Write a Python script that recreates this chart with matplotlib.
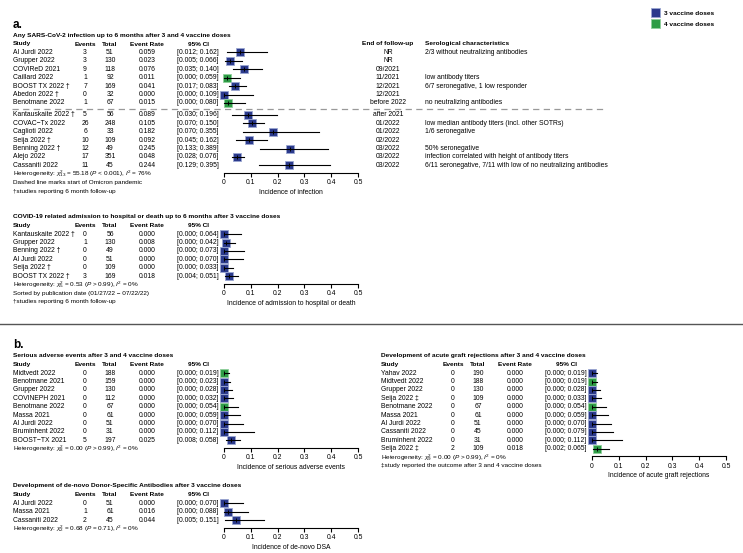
import matplotlib
matplotlib.use('Agg')
import matplotlib.pyplot as plt
from matplotlib.patches import Patch

plt.rcParams['font.family'] = ['Liberation Sans', 'DejaVu Sans']
plt.rcParams['mathtext.fontset'] = 'custom'
plt.rcParams['mathtext.rm'] = 'Liberation Sans'
plt.rcParams['mathtext.it'] = 'Liberation Sans:italic'
plt.rcParams['mathtext.bf'] = 'Liberation Sans:bold'

BLUE = '#2b3a8c'
GREEN = '#2e9c46'

# --- a. infection
inf_names = ['Al Jurdi 2022', 'Grupper 2022', 'COVIReD 2021', 'Caillard 2022', 'BOOST TX 2022 \u2020',
             'Abedon 2022 \u2020', 'Benotmane 2022', 'Kantauskaite 2022 \u2020', 'COVAC\u2212Tx 2022',
             'Caglioti 2022', 'Seija 2022 \u2020', 'Benning 2022 \u2020', 'Alejo 2022', 'Cassaniti 2022']
inf_events = [3, 3, 9, 1, 7, 0, 1, 5, 26, 6, 10, 12, 17, 11]
inf_totals = [51, 130, 118, 92, 169, 32, 67, 56, 248, 33, 109, 49, 351, 45]
inf_rates = [0.059, 0.023, 0.076, 0.011, 0.041, 0.000, 0.015, 0.089, 0.105, 0.182, 0.092, 0.245, 0.048, 0.244]
inf_lo = [0.012, 0.005, 0.035, 0.000, 0.017, 0.000, 0.000, 0.030, 0.070, 0.070, 0.045, 0.133, 0.028, 0.129]
inf_hi = [0.162, 0.066, 0.140, 0.059, 0.083, 0.109, 0.080, 0.196, 0.150, 0.355, 0.162, 0.389, 0.076, 0.395]
inf_doses = [3, 3, 3, 4, 3, 3, 4, 3, 3, 3, 3, 3, 3, 3]
inf_followup = ['NR', 'NR', '09/2021', '11/2021', '12/2021', '12/2021', 'before 2022', 'after 2021',
                '01/2022', '01/2022', '02/2022', '03/2022', '03/2022', '03/2022']
inf_sero = ['2/3 without neutralizing antibodies', '', '', 'low antibody titers',
            '6/7 seronegative, 1 low responder', '', 'no neutralizing antibodies', '',
            'low median antibody titers (incl. other SOTRs)', '1/6 seronegative', '', '50% seronegative',
            'infection correlated with height of antibody titers',
            '6/11 seronegative, 7/11 with low of no neutralizing antibodies']

# --- a. hospital / death
hosp_names = ['Kantauskaite 2022 \u2020', 'Grupper 2022', 'Benning 2022 \u2020', 'Al Jurdi 2022',
              'Seija 2022 \u2020', 'BOOST TX 2022 \u2020']
hosp_events = [0, 1, 0, 0, 0, 3]
hosp_totals = [56, 130, 49, 51, 109, 169]
hosp_rates = [0.000, 0.008, 0.000, 0.000, 0.000, 0.018]
hosp_lo = [0.000, 0.000, 0.000, 0.000, 0.000, 0.004]
hosp_hi = [0.064, 0.042, 0.073, 0.070, 0.033, 0.051]
hosp_doses = [3, 3, 3, 3, 3, 3]

# --- b. serious adverse events
sae_names = ['Midtvedt 2022', 'Benotmane 2021', 'Grupper 2022', 'COVINEPH 2021', 'Benotmane 2022',
             'Massa 2021', 'Al Jurdi 2022', 'Bruminhent 2022', 'BOOST\u2212TX 2021']
sae_events = [0, 0, 0, 0, 0, 0, 0, 0, 5]
sae_totals = [188, 159, 130, 112, 67, 61, 51, 31, 197]
sae_rates = [0.000, 0.000, 0.000, 0.000, 0.000, 0.000, 0.000, 0.000, 0.025]
sae_lo = [0.000, 0.000, 0.000, 0.000, 0.000, 0.000, 0.000, 0.000, 0.008]
sae_hi = [0.019, 0.023, 0.028, 0.032, 0.054, 0.059, 0.070, 0.112, 0.058]
sae_doses = [4, 3, 3, 3, 4, 3, 3, 3, 3]

# --- b. de-novo DSA
dsa_names = ['Al Jurdi 2022', 'Massa 2021', 'Cassaniti 2022']
dsa_events = [0, 1, 2]
dsa_totals = [51, 61, 45]
dsa_rates = [0.000, 0.016, 0.044]
dsa_lo = [0.000, 0.000, 0.005]
dsa_hi = [0.070, 0.088, 0.151]
dsa_doses = [3, 3, 3]

# --- b. acute graft rejection
agr_names = ['Yahav 2022', 'Midtvedt 2022', 'Grupper 2022', 'Seija 2022 \u2021', 'Benotmane 2022',
             'Massa 2021', 'Al Jurdi 2022', 'Cassaniti 2022', 'Bruminhent 2022', 'Seija 2022 \u2021']
agr_events = [0, 0, 0, 0, 0, 0, 0, 0, 0, 2]
agr_totals = [190, 188, 130, 109, 67, 61, 51, 45, 31, 109]
agr_rates = [0.000, 0.000, 0.000, 0.000, 0.000, 0.000, 0.000, 0.000, 0.000, 0.018]
agr_lo = [0.000, 0.000, 0.000, 0.000, 0.000, 0.000, 0.000, 0.000, 0.000, 0.002]
agr_hi = [0.019, 0.019, 0.028, 0.033, 0.054, 0.059, 0.070, 0.079, 0.112, 0.065]
agr_doses = [3, 4, 3, 3, 4, 3, 3, 3, 3, 4]

ticks = [0, 0.1, 0.2, 0.3, 0.4, 0.5]
tick_labels = ['0', '0.1', '0.2', '0.3', '0.4', '0.5']

W, H = 743, 553
FS = 4.9
FSB = 4.65
fig = plt.figure(figsize=(W / 100, H / 100), dpi=100)
bg = fig.add_axes([0, 0, 1, 1])
bg.set_xlim(0, W)
bg.set_ylim(H, 0)
bg.axis('off')


def txt(x, y, s, **kw):
    if kw.get('fontweight') == 'bold':
        kw.setdefault('fontsize', FSB)
    kw.setdefault('fontsize', FS)
    kw.setdefault('va', 'center')
    bg.text(x, y, s, **kw)


def forest(x0, ytitle, title, names, events, totals, rates, lo, hi, doses, xlabel, notes,
           gap_after=None, msize=5.0):
    # column layout relative to the study column
    c_ev, c_tot, c_rate, c_ci = x0 + 72, x0 + 97, x0 + 134, x0 + 185
    a0, a1 = x0 + 211, x0 + 345
    txt(x0, ytitle, title, fontweight='bold')
    yh = ytitle + 9
    txt(x0, yh, 'Study', fontweight='bold')
    txt(c_ev, yh, 'Events', fontweight='bold', ha='center')
    txt(c_tot, yh, 'Total', fontweight='bold', ha='center')
    txt(c_rate, yh, 'Event Rate', fontweight='bold', ha='center')
    txt(c_ci, yh, '95% CI', fontweight='bold', ha='center')
    rows = []
    y = yh + 8.5
    for i in range(len(names)):
        rows.append(y)
        y += 8.4
        if gap_after is not None and i == gap_after:
            y += 3.6
    for i, yy in enumerate(rows):
        txt(x0, yy, names[i])
        txt(c_ev, yy, str(events[i]), ha='center')
        txt(c_tot, yy, str(totals[i]), ha='center')
        txt(c_rate, yy, '%.3f' % rates[i], ha='center')
        txt(c_ci, yy, '[%.3f; %.3f]' % (lo[i], hi[i]), ha='center')
    ytop = rows[0] - 6
    yax = rows[-1] + 7.5
    ax = fig.add_axes([a0 / W, 1 - yax / H, (a1 - a0) / W, (yax - ytop) / H])
    ax.patch.set_alpha(0)
    ax.set_xlim(0, 0.5)
    ax.set_ylim(yax, ytop)
    for sp in ['top', 'right', 'left']:
        ax.spines[sp].set_visible(False)
    ax.spines['bottom'].set_linewidth(0.8)
    ax.set_yticks([])
    ax.set_xticks(ticks)
    ax.set_xticklabels(tick_labels)
    ax.tick_params(axis='x', length=3, width=0.8, pad=1.5, labelsize=FS)
    ax.set_xlabel(xlabel, fontsize=FS, labelpad=2)
    for i, yy in enumerate(rows):
        col = GREEN if doses[i] == 4 else BLUE
        edge = '#8fd09c' if doses[i] == 4 else '#9aa6d2'
        ax.plot(rates[i], yy, marker='s', ms=msize, color=col, mec=edge, mew=0.6, clip_on=False, zorder=2)
        ax.plot([lo[i], hi[i]], [yy, yy], color='black', lw=0.8, clip_on=False, zorder=3)
        ax.plot(rates[i], yy, marker='|', ms=2.5, mew=0.7, color='black', clip_on=False, zorder=4)
    yn = rows[-1] + 8.7
    for n in notes:
        txt(x0, yn, n, fontsize=4.6)
        yn += 8.5
    return rows


# panel a
txt(13, 25, 'a.', fontsize=8.5, fontweight='bold')
rows = forest(13, 35, 'Any SARS-CoV-2 infection up to 6 months after 3 and 4 vaccine doses',
              inf_names, inf_events, inf_totals, inf_rates, inf_lo, inf_hi, inf_doses,
              'Incidence of infection',
              [r'Heterogeneity: $\chi^2_{13}$ = 55.18 ($P$ < 0.001), $I^2$ = 76%',
               'Dashed line marks start of Omicron pandemic',
               '\u2020studies reporting 6 month follow-up'],
              gap_after=6, msize=5.2)
txt(388, 44, 'End of follow-up', fontweight='bold', ha='center')
txt(425, 44, 'Serological characteristics', fontweight='bold')
for i, yy in enumerate(rows):
    txt(388, yy, inf_followup[i], ha='center')
    txt(425, yy, inf_sero[i])
ydash = (rows[6] + rows[7]) / 2
bg.plot([12, 605], [ydash, ydash], color='#999999', lw=0.9, dashes=(5, 3.5))

forest(13, 216.7, 'COVID-19 related admission to hospital or death up to 6 months after 3 vaccine doses',
       hosp_names, hosp_events, hosp_totals, hosp_rates, hosp_lo, hosp_hi, hosp_doses,
       'Incidence of admission to hospital or death',
       [r'Heterogeneity: $\chi^2_{5}$ = 0.53 ($P$ > 0.99), $I^2$ = 0%',
        'Sorted by publication date (01/27/22 \u2212 07/22/22)',
        '\u2020studies reporting 6 month follow-up'],
       msize=5.8)

# separator
bg.plot([0, W], [324, 324], color='#555555', lw=1.0)

# panel b
txt(13, 345, 'b.', fontsize=8.5, fontweight='bold')
forest(13, 355.7, 'Serious adverse events after 3 and 4 vaccine doses',
       sae_names, sae_events, sae_totals, sae_rates, sae_lo, sae_hi, sae_doses,
       'Incidence of serious adverse events',
       [r'Heterogeneity: $\chi^2_{8}$ = 0.00 ($P$ > 0.99), $I^2$ = 0%'],
       msize=5.2)
forest(13, 485.7, 'Development of de-novo Donor-Specific Antibodies after 3 vaccine doses',
       dsa_names, dsa_events, dsa_totals, dsa_rates, dsa_lo, dsa_hi, dsa_doses,
       'Incidence of de-novo DSA',
       [r'Heterogeneity: $\chi^2_{2}$ = 0.68 ($P$ = 0.71), $I^2$ = 0%'],
       msize=5.8)
forest(381, 355.7, 'Development of acute graft rejections after 3 and 4 vaccine doses',
       agr_names, agr_events, agr_totals, agr_rates, agr_lo, agr_hi, agr_doses,
       'Incidence of acute graft rejections',
       [r'Heterogeneity: $\chi^2_{9}$ = 0.00 ($P$ > 0.99), $I^2$ = 0%',
        '\u2021study reported the outcome after 3 and 4 vaccine doses'],
       msize=5.2)

# legend
handles = [Patch(facecolor=BLUE, edgecolor='#9aa6d2', lw=0.6, label='3 vaccine doses'),
           Patch(facecolor=GREEN, edgecolor='#8fd09c', lw=0.6, label='4 vaccine doses')]
fig.legend(handles=handles, loc='upper left', bbox_to_anchor=(648 / W, 1 - 5 / H), frameon=False,
           prop={'size': FSB, 'weight': 'bold'}, handlelength=1.3, handleheight=1.8,
           handletextpad=0.6, labelspacing=0.3, borderpad=0)

fig.savefig('out.png', dpi=100)
